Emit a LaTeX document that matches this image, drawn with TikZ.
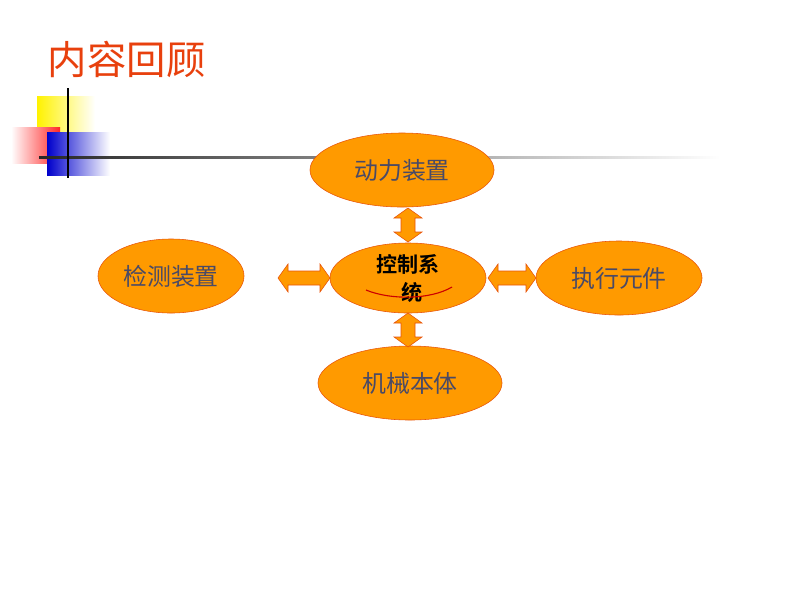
\documentclass[tikz,border=0pt]{standalone}
\usepackage{fontspec}
\newfontfamily\cjk{Noto Sans CJK SC}
\newfontfamily\cjkb{Noto Sans CJK SC Bold}
\usetikzlibrary{shapes.geometric,calc}
\definecolor{fillorange}{HTML}{FF9A00}
\definecolor{lineorange}{HTML}{E8540A}
\definecolor{titlered}{HTML}{E8400D}
\definecolor{textgray}{HTML}{4A4A66}
\tikzset{
	part/.style={ellipse, draw=lineorange, fill=fillorange, inner sep=0,
		text=textgray, font=\cjk\fontsize{17}{20}\selectfont},
	link/.style={draw=lineorange, fill=fillorange},
	pics/dblarrow/.style={code={
		\draw[link] (-#1,0) -- (-#1+10,-14) -- (-#1+10,-7) -- (#1-10,-7) -- (#1-10,-14)
			-- (#1,0) -- (#1-10,14) -- (#1-10,7) -- (-#1+10,7) -- (-#1+10,14) -- cycle;
	}},
}
\begin{document}
\begin{tikzpicture}[x=0.025cm, y=-0.025cm]
	\useasboundingbox (0,0) rectangle (800,600);
	% title and corner decoration
	\node[text=titlered, font=\cjk\fontsize{28}{32}\selectfont, anchor=west] (title) at (43,59) {内容回顾};
	\shade[left color=yellow!90!orange, right color=white] (37,96) rectangle (95,132);
	\shade[left color=white, right color=red!85] (11,127) rectangle (60,163);
	\shade[left color=blue!80!black, right color=white] (47,132) rectangle (110,175);
	\shade[left color=black!85, right color=white] (39,156) rectangle (720,158.5);
	\draw[line width=1pt] (68,88) -- (68,178);
	% parts
	\node[part, minimum width=4.6cm, minimum height=1.85cm] (power) at (402,170) {动力装置};
	\node[part, minimum width=3.65cm, minimum height=1.85cm] (sensor) at (171,276) {检测装置};
	\node[part, minimum width=3.9cm, minimum height=1.75cm] (ctrl) at (408,278) {};
	\node[part, minimum width=4.15cm, minimum height=1.85cm] (actor) at (619,278) {执行元件};
	\node[part, minimum width=4.6cm, minimum height=1.85cm] (body) at (410,383) {机械本体};
	\node[font=\cjkb\fontsize{15}{18}\selectfont] (ctrltop) at (408,264) {控制系};
	\node[font=\cjkb\fontsize{15}{18}\selectfont] (ctrlbot) at (412,292) {统};
	\draw[red!80!black, thick] (366,290) .. controls (390,300) and (430,300) .. (452,287);
	% links
	\pic[rotate=90] (upl) at (408,225) {dblarrow=17};
	\pic[rotate=90] (downl) at (408,330) {dblarrow=17};
	\pic (leftl) at (304,278) {dblarrow=26};
	\pic (rightl) at (512,278) {dblarrow=24};
\end{tikzpicture}
\end{document}
